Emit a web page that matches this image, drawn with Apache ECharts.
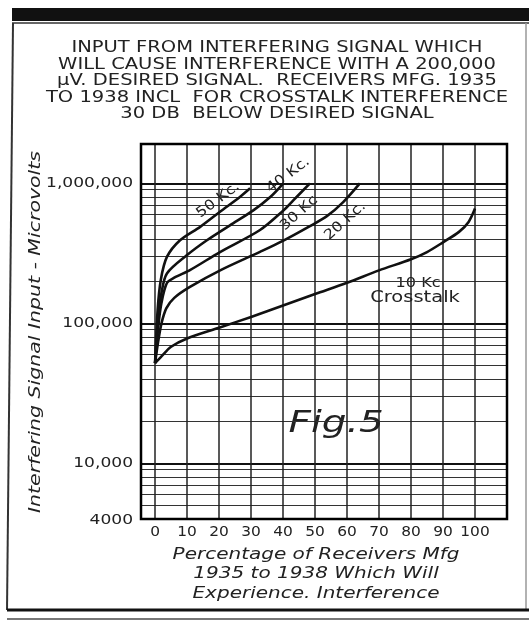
<!DOCTYPE html>
<html><head><meta charset="utf-8">
<script src="https://cdn.jsdelivr.net/npm/echarts@6/dist/echarts.min.js"></script>
<style>html,body{margin:0;padding:0;background:#fff}#c{width:529px;height:621px}</style>
</head><body><div id="c"></div>
<script>
// ---- data (x = % of receivers, y = microvolts) ----
const kc10 = [[0,52000],[2,58000],[5,68000],[10,78000],[20,93000],[30,111000],[40,134000],[50,162000],[60,195000],[70,239000],[80,287000],[85,323000],[90,379000],[95,450000],[98,530000],[100,660000]];
const kc20 = [[0,52000],[1,75000],[2,100000],[3.5,128000],[6,152000],[10.9,182000],[20.5,240000],[32.8,324000],[40.1,390000],[48.4,495000],[53.7,583000],[58.8,735000],[64,1000000]];
const kc30 = [[0,52000],[1,95000],[2,140000],[3.7,194000],[6,212000],[10.9,240000],[20.3,323000],[32.8,464000],[40.1,640000],[43.2,755000],[48.4,1000000]];
const kc40 = [[0,52000],[1,112000],[2,165000],[3.7,227000],[9.9,306000],[16.2,392000],[23.4,501000],[30.7,641000],[36,798000],[40.1,1000000]];
const kc50 = [[0,52000],[0.8,125000],[1.8,205000],[3.7,298000],[7.8,392000],[14.1,489000],[20.3,627000],[26.6,803000],[29.7,922000]];
const xTicks = [0,10,20,30,40,50,60,70,80,90,100];
const yTickLabels = [[4000,'4000'],[10000,'10,000'],[100000,'100,000'],[1000000,'1,000,000']];
const yGrid = [5000,6000,7000,8000,9000,10000,20000,30000,40000,50000,60000,70000,80000,90000,100000,200000,300000,400000,500000,600000,700000,800000,900000,1000000];
// annotation anchors in data space
const curveLabels = [
  {text:'50 Kc.', at:[19.7,760000], rot:37, size:14, sx:1.15},
  {text:'40 Kc.', at:[41.6,1146000], rot:37, size:14, sx:1.15},
  {text:'30 Kc', at:[45.0,613000], rot:42, size:14, sx:1.15},
  {text:'20 Kc.', at:[59.4,538000], rot:42, size:14, sx:1.15},
  {text:'10 Kc', at:[82.2,194000], rot:0, size:14, sx:1.15},
  {text:'Crosstalk', at:[81.25,152000], rot:0, size:15, sx:1.3}
];
const figLabel = {text:'Fig.5', at:[56.6,19100]};
const titleLines = ['INPUT FROM INTERFERING SIGNAL WHICH','WILL CAUSE INTERFERENCE WITH A 200,000','\u00b5V. DESIRED SIGNAL.  RECEIVERS MFG. 1935','TO 1938 INCL  FOR CROSSTALK INTERFERENCE','30 DB  BELOW DESIRED SIGNAL'];
const xNameLines = ['Percentage of Receivers Mfg','1935 to 1938 Which Will','Experience. Interference'];
const yName = 'Interfering Signal Input - Microvolts';

const FONT = 'DejaVu Sans';
const chart = echarts.init(document.getElementById('c'), null, {renderer:'canvas'});

const gridLineData = [];
yGrid.forEach(v => {
  const major = (v===10000||v===100000||v===1000000);
  gridLineData.push({yAxis:v, lineStyle:{color: major?'#111':'#333', width: major?1.8:1.2, type:'solid'}});
});
xTicks.forEach(v => {
  gridLineData.push({xAxis:v, lineStyle:{color:'#222', width:1.5, type:'solid'}});
});

function curve(name, data){
  return {name, type:'line', data, smooth:0.3, showSymbol:false, symbol:'none',
    lineStyle:{color:'#111', width:2.6}, z:5, silent:true};
}

chart.setOption({
  animation:false,
  backgroundColor:'#fff',
  grid:{left:141, right:22, top:144, bottom:102, show:true, borderColor:'#000', borderWidth:2.5, backgroundColor:'transparent', z:10},
  xAxis:{type:'value', min:-4.4, max:110, axisLine:{show:false}, axisTick:{show:false}, axisLabel:{show:false}, splitLine:{show:false}},
  yAxis:{type:'log', logBase:10, min:4000, max:1910000, axisLine:{show:false}, axisTick:{show:false}, axisLabel:{show:false}, splitLine:{show:false}},
  series:[
    {type:'line', data:[], silent:true, z:1,
      markLine:{symbol:['none','none'], silent:true, animation:false, label:{show:false}, data:gridLineData}},
    curve('10 Kc', kc10), curve('20 Kc', kc20), curve('30 Kc', kc30), curve('40 Kc', kc40), curve('50 Kc', kc50)
  ]
});

const graphics = [
  {type:'rect', shape:{x:12, y:8, width:517, height:13}, style:{fill:'#111'}},
  {type:'line', shape:{x1:12, y1:23, x2:529, y2:23}, style:{stroke:'#666', lineWidth:2}},
  {type:'line', shape:{x1:13, y1:23, x2:7, y2:610}, style:{stroke:'#333', lineWidth:2}},
  {type:'line', shape:{x1:526, y1:23, x2:526, y2:610}, style:{stroke:'#999', lineWidth:1.5}},
  {type:'line', shape:{x1:7, y1:610, x2:529, y2:610}, style:{stroke:'#111', lineWidth:3}},
  {type:'line', shape:{x1:7, y1:619, x2:529, y2:619}, style:{stroke:'#777', lineWidth:2}},
  {type:'text', x:277, y:40, scaleX:1.22, style:{text:titleLines.join('\n'), fontFamily:FONT, fontSize:16, lineHeight:16.5, fill:'#222', textAlign:'center', textVerticalAlign:'top'}},
  {type:'text', x:316, y:545, scaleX:1.25, style:{text:xNameLines.join('\n'), fontFamily:FONT, fontStyle:'italic', fontSize:16, lineHeight:19.5, fill:'#222', textAlign:'center', textVerticalAlign:'top'}},
  {type:'text', x:36, y:332, rotation:Math.PI/2, scaleX:1.28, style:{text:yName, fontFamily:FONT, fontStyle:'italic', fontSize:16, fill:'#222', textAlign:'center', textVerticalAlign:'middle'}}
];
// tick labels placed through the axes
yTickLabels.forEach(([v,t]) => {
  const p = chart.convertToPixel({gridIndex:0}, [-4.4, v]);
  graphics.push({type:'text', x:p[0]-8, y:p[1]+(v===4000?1:0), scaleX:1.22, style:{text:t, fontFamily:FONT, fontSize:14, fill:'#222', textAlign:'right', textVerticalAlign:'middle'}});
});
xTicks.forEach(v => {
  const p = chart.convertToPixel({gridIndex:0}, [v, 4000]);
  graphics.push({type:'text', x:p[0], y:p[1]+13, scaleX:1.1, style:{text:String(v), fontFamily:FONT, fontSize:14, fill:'#222', textAlign:'center', textVerticalAlign:'middle'}});
});
curveLabels.forEach(l => {
  const p = chart.convertToPixel({gridIndex:0}, l.at);
  graphics.push({type:'text', x:p[0], y:p[1], z:3, rotation: l.rot*Math.PI/180, scaleX:l.sx,
    style:{text:l.text, fontFamily:FONT, fontSize:l.size, fill:'#222', textAlign:'center', textVerticalAlign:'middle', backgroundColor:'#fff', padding:[0,1]}});
});
const fp = chart.convertToPixel({gridIndex:0}, figLabel.at);
graphics.push({type:'text', x:fp[0], y:fp[1], z:3, scaleX:1.3, style:{text:figLabel.text, fontFamily:FONT, fontStyle:'italic', fontSize:30, fill:'#222', textAlign:'center', textVerticalAlign:'middle', backgroundColor:'#fff', padding:[2,3]}});
chart.setOption({graphic:graphics});
</script></body></html>
